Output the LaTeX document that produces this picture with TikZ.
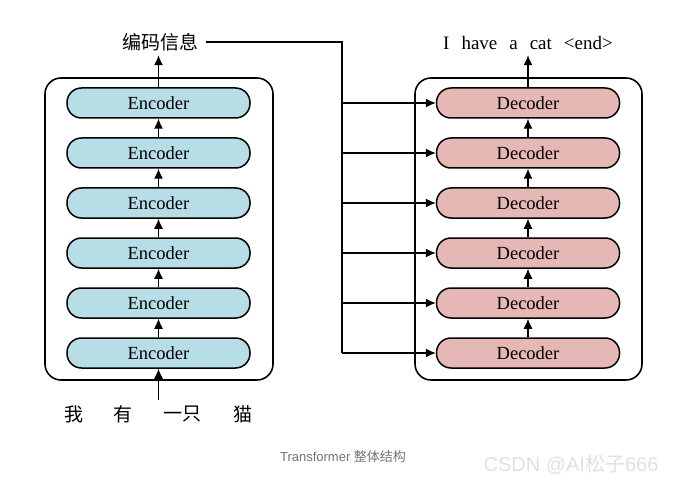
\documentclass[tikz,border=0pt]{standalone}
\usepackage{fontspec}
\setmainfont{Liberation Serif}
\newfontfamily\cjk{Noto Sans CJK SC}
\newfontfamily\capfont{Liberation Sans}
\usetikzlibrary{arrows.meta}
\definecolor{encfill}{HTML}{B7DDE7}
\definecolor{decfill}{HTML}{E6B8B5}
\begin{document}
\begin{tikzpicture}[x=1pt,y=-1pt,
  outer/.style={draw=black,line width=1.6pt,rounded corners=16pt},
  enc/.style={draw=black,line width=1.5pt,fill=encfill,rounded corners=14.5pt,minimum width=183pt,minimum height=30pt,inner sep=0pt,font=\fontsize{18.5}{20}\selectfont},
  dec/.style={enc,fill=decfill},
  arr/.style={line width=1.2pt,-{Latex[length=10pt,width=9pt]}},
  lbl/.style={inner sep=0pt,font=\fontsize{19}{21}\selectfont}]
\useasboundingbox (0,0) rectangle (676,486);
% outer boxes
\node[outer,minimum width=228pt,minimum height=302pt,inner sep=0pt] (L) at (159,229) {};
\node[outer,minimum width=227pt,minimum height=302pt,inner sep=0pt] (R) at (528.5,229) {};
% encoders and decoders
\foreach \i/\y in {1/103,2/153,3/203,4/253,5/303,6/353}{
  \node[enc] (e\i) at (158.5,\y) {Encoder};
  \node[dec] (d\i) at (528,\y) {Decoder};
}
\foreach \a/\b in {6/5,5/4,4/3,3/2,2/1}{
  \draw[arr] (e\a.north) -- (e\b.south);
  \draw[arr] (d\a.north) -- (d\b.south);
}
% labels
\node[lbl,font=\cjk\fontsize{19}{21}\selectfont] (code) at (160,42) {编码信息};
\draw[arr] (e1.north) -- ++(0,-32) coordinate (ctop);
\node[lbl] (out) at (528,43) {I\hspace{12pt}have\hspace{12pt}a\hspace{12pt}cat\hspace{12pt}<end>};
\draw[arr] (d1.north) -- ++(0,-32);
% input words
\node[lbl,font=\cjk\fontsize{19}{21}\selectfont] (w1) at (74,414) {我};
\node[lbl,font=\cjk\fontsize{19}{21}\selectfont] (w2) at (123,414) {有};
\node[lbl,font=\cjk\fontsize{19}{21}\selectfont] (w3) at (182,414) {一只};
\node[lbl,font=\cjk\fontsize{19}{21}\selectfont] (w4) at (243,414) {猫};
\coordinate (inbot) at (158.5,400);
\draw[arr] (inbot) -- (e6.south);
% encoding line
\coordinate (bend) at (342,42);
\coordinate (bus) at (342,353);
\draw[line width=1.2pt] (code.east) ++(8,0) -- (bend) -- (bus);
\foreach \i in {1,...,6}{
  \draw[arr] (342,0 |- d\i.west) -- (d\i.west);
}
% caption
\node[inner sep=0pt,text=black!55,font=\capfont\fontsize{13}{15}\selectfont] (cap) at (343,457) {Transformer {\cjk 整体结构}};
\node[inner sep=0pt,text=black!12,font=\capfont\fontsize{20}{22}\selectfont] (wm) at (571,464) {CSDN @AI{\cjk 松子}666};
\end{tikzpicture}
\end{document}
